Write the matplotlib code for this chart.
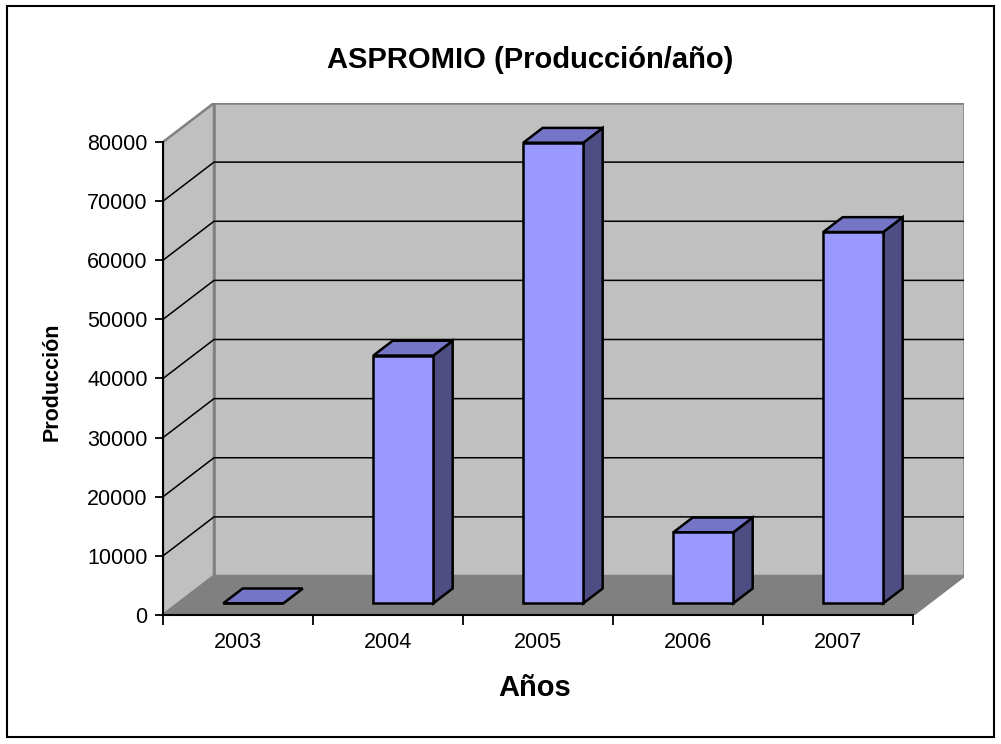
import matplotlib
matplotlib.use("Agg")
import matplotlib.pyplot as plt
from matplotlib.patches import Polygon, Rectangle
import numpy as np

plt.rcParams['font.family'] = ['Liberation Sans', 'DejaVu Sans']

# data
years = ['2003', '2004', '2005', '2006', '2007']
produccion = [0, 41900, 77900, 12000, 62800]
y_ticks = [0, 10000, 20000, 30000, 40000, 50000, 60000, 70000, 80000]
titulo = 'ASPROMIO (Producción/año)'
x_label = 'Años'
y_label = 'Producción'

# fake 3d: oblique offset of the back wall, in data units
YMAX = 80000
DX = 0.34
DY = 6596
D0, D1 = 0.30, 0.68   # bar depth (front, back) as a fraction of the floor depth
BAR_W = 0.40

fig = plt.figure(figsize=(10.01, 7.44), dpi=100)
ax = fig.add_axes([163 / 1001, 129 / 744, 801 / 1001, 512 / 744])
n = len(years)
ax.set_xlim(0, n + DX)
ax.set_ylim(0, YMAX + DY)

wall = '#C0C0C0'
floor = '#808080'
edge = '#808080'

# -----------------------
# walls and floor
# -----------------------
ax.add_patch(Polygon([(DX, DY), (n + DX, DY), (n + DX, YMAX + DY), (DX, YMAX + DY)],
                     closed=True, facecolor=wall, edgecolor=edge, lw=1.8, zorder=0))
ax.add_patch(Polygon([(0, 0), (0, YMAX), (DX, YMAX + DY), (DX, DY)],
                     closed=True, facecolor=wall, edgecolor=edge, lw=1.8, zorder=0))
ax.add_patch(Polygon([(0, 0), (n, 0), (n + DX, DY), (DX, DY)],
                     closed=True, facecolor=floor, edgecolor=edge, lw=1.8, zorder=0))

# gridlines on side and back wall
for v in y_ticks[1:-1]:
    ax.plot([0, DX, n + DX], [v, v + DY, v + DY], color='black', lw=1.1, zorder=1)

# -----------------------
# bars
# -----------------------
front = '#9999FF'
top_c = '#7575C8'
side_c = '#4E4E84'
ddx = DX * (D1 - D0)
ddy = DY * (D1 - D0)
xc = np.arange(n) + 0.5 + DX * D0
base = DY * D0
ax.bar(xc, produccion, width=BAR_W, bottom=base, color=front,
       edgecolor='black', lw=1.8, zorder=4)
for x, v in zip(xc, produccion):
    xl, xr = x - BAR_W / 2, x + BAR_W / 2
    t = base + v
    ax.add_patch(Polygon([(xr, base), (xr, t), (xr + ddx, t + ddy), (xr + ddx, base + ddy)],
                         closed=True, facecolor=side_c, edgecolor='black', lw=1.8, zorder=3))
    ax.add_patch(Polygon([(xl, t), (xr, t), (xr + ddx, t + ddy), (xl + ddx, t + ddy)],
                         closed=True, facecolor=top_c, edgecolor='black', lw=1.8, zorder=3))

# -----------------------
# axes
# -----------------------
for s in ['top', 'right']:
    ax.spines[s].set_visible(False)
ax.spines['left'].set_bounds(0, YMAX)
ax.spines['bottom'].set_bounds(0, n)
ax.spines['left'].set_linewidth(1.5)
ax.spines['bottom'].set_linewidth(1.5)
ax.spines['left'].set_zorder(5)
ax.spines['bottom'].set_zorder(5)
ax.patch.set_visible(False)

ax.set_yticks(y_ticks)
ax.set_yticklabels([str(v) for v in y_ticks])
ax.tick_params(axis='y', length=6, width=1.3, pad=5, labelsize=15.5)

ax.set_xticks(np.arange(n + 1))
ax.set_xticklabels([])
ax.set_xticks(np.arange(n) + 0.5, minor=True)
ax.set_xticklabels(years, minor=True)
ax.tick_params(axis='x', which='major', length=7, width=1.3)
ax.tick_params(axis='x', which='minor', length=0, pad=12, labelsize=15.5)

fig.text(535 / 1001, 1 - 688 / 744, x_label, ha='center', va='center',
         fontsize=21, fontweight='bold')
fig.text(52 / 1001, 1 - 382 / 744, y_label, ha='center', va='center',
         rotation=90, fontsize=15.5, fontweight='bold')
fig.text(530 / 1001, 1 - 60 / 744, titulo, ha='center', va='center',
         fontsize=21, fontweight='bold')

# outer chart border
fig.patches.append(Rectangle((7 / 1001, 7 / 744), 987 / 1001, 731 / 744,
                             transform=fig.transFigure, fill=False,
                             edgecolor='black', lw=1.5))

fig.savefig('out.png', dpi=100)
